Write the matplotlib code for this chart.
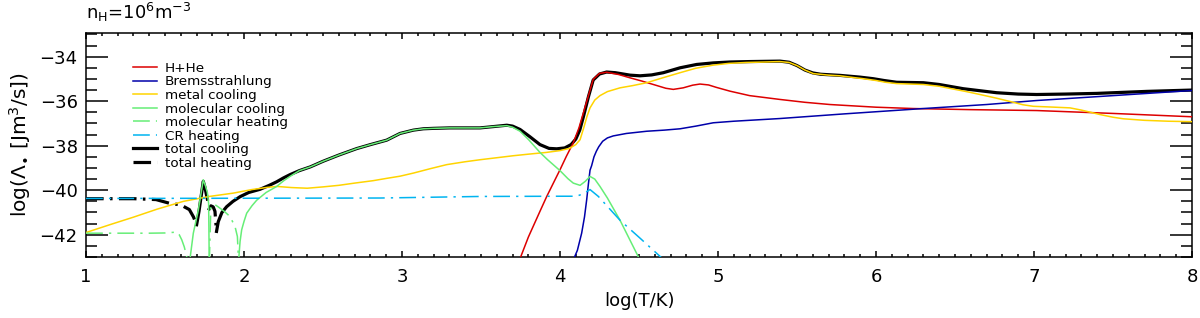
import numpy as np
import matplotlib
matplotlib.use("Agg")
import matplotlib.pyplot as plt
from matplotlib.ticker import MultipleLocator

nan = np.nan

# log(T/K) and log(Lambda); nan splits cooling/heating branches
hhe_x = [3.74, 3.80, 3.873, 3.916, 3.96, 4.00, 4.04, 4.084, 4.12, 4.148, 4.18, 4.21, 4.25, 4.295,
         4.37, 4.443, 4.52, 4.60, 4.67, 4.717, 4.78, 4.84, 4.886, 4.94, 4.99, 5.076, 5.20, 5.39,
         5.55, 5.709, 6.00, 6.236, 6.60, 7.017, 7.50, 8.00]
hhe_y = [-43.2, -42.1, -40.95, -40.28, -39.65, -39.08, -38.48, -37.87, -37.2, -36.52, -35.75,
         -35.02, -34.75, -34.7, -34.8, -34.95, -35.1, -35.27, -35.42, -35.47, -35.4, -35.28,
         -35.23, -35.27, -35.38, -35.55, -35.75, -35.92, -36.05, -36.15, -36.27, -36.33,
         -36.38, -36.42, -36.55, -36.7]

brems_x = [4.08, 4.11, 4.137, 4.155, 4.169, 4.18, 4.19, 4.20, 4.215, 4.23, 4.245, 4.27, 4.30,
           4.337, 4.42, 4.549, 4.66, 4.76, 4.86, 4.97, 5.10, 5.39, 5.80, 6.30, 6.70, 7.017,
           7.50, 8.00]
brems_y = [-43.2, -42.7, -41.93, -41.2, -40.42, -39.7, -39.1, -38.9, -38.5, -38.25, -38.05,
           -37.8, -37.65, -37.56, -37.45, -37.35, -37.3, -37.24, -37.12, -36.97, -36.9, -36.78,
           -36.57, -36.33, -36.15, -35.97, -35.75, -35.52]

metal_x = [1.0, 1.15, 1.30, 1.45, 1.616, 1.78, 1.932, 2.05, 2.15, 2.21, 2.30, 2.40, 2.50, 2.60,
           2.70, 2.818, 2.90, 2.987, 3.072, 3.18, 3.283, 3.40, 3.494, 3.60, 3.705, 3.80, 3.916,
           4.00, 4.06, 4.10, 4.127, 4.15, 4.17, 4.19, 4.22, 4.253, 4.30, 4.38, 4.46, 4.549,
           4.65, 4.76, 4.86, 4.97, 5.07, 5.18, 5.30, 5.39, 5.45, 5.50, 5.55, 5.603, 5.70,
           5.772, 5.85, 5.92, 6.00, 6.06, 6.131, 6.22, 6.30, 6.40, 6.50, 6.58, 6.658, 6.76,
           6.869, 6.93, 6.996, 7.10, 7.228, 7.30, 7.418, 7.50, 7.565, 7.70, 7.85, 8.0]
metal_y = [-41.9, -41.55, -41.21, -40.85, -40.5, -40.28, -40.13, -39.97, -39.87, -39.83,
           -39.88, -39.91, -39.85, -39.78, -39.68, -39.57, -39.47, -39.37, -39.23, -39.03,
           -38.85, -38.72, -38.63, -38.54, -38.45, -38.38, -38.30, -38.22, -38.12, -37.95,
           -37.73, -37.2, -36.7, -36.3, -35.95, -35.75, -35.57, -35.4, -35.3, -35.17, -34.95,
           -34.72, -34.52, -34.38, -34.3, -34.26, -34.24, -34.22, -34.26, -34.4, -34.6,
           -34.76, -34.83, -34.86, -34.93, -34.99, -35.07, -35.15, -35.21, -35.23, -35.25,
           -35.33, -35.47, -35.58, -35.70, -35.86, -36.05, -36.16, -36.23, -36.26, -36.30,
           -36.4, -36.60, -36.72, -36.79, -36.86, -36.9, -36.92]

molcool_x = [1.654, 1.679, 1.711, 1.742, 1.757, 1.768, 1.776, 1.780, nan,
             1.964, 1.975, 1.985, 2.00, 2.017, 2.05, 2.08, 2.14, 2.207, 2.25, 2.291, 2.35,
             2.42, 2.50, 2.60, 2.713, 2.80, 2.903, 2.987, 3.072, 3.135, 3.20, 3.30, 3.40,
             3.494, 3.58, 3.663, 3.70, 3.747, 3.80, 3.873, 3.92, 4.00, 4.05, 4.084, 4.127,
             4.16, 4.19, 4.22, 4.253, 4.30, 4.38, 4.44, 4.50]
molcool_y = [-43.3, -41.93, -40.88, -39.53, -39.83, -40.1, -40.6, -43.3, nan,
             -43.3, -42.3, -41.78, -41.4, -41.03, -40.7, -40.45, -40.1, -39.83, -39.58,
             -39.38, -39.12, -38.95, -38.7, -38.42, -38.13, -37.95, -37.75, -37.45, -37.3,
             -37.24, -37.22, -37.2, -37.2, -37.2, -37.14, -37.1, -37.17, -37.35, -37.72,
             -38.3, -38.62, -39.12, -39.48, -39.68, -39.78, -39.6, -39.38, -39.5, -39.83,
             -40.35, -41.35, -42.2, -43.05]

molheat_x = [1.0, 1.2, 1.4, 1.5, 1.574, 1.59, 1.606, 1.622, 1.637, 1.645, nan,
             1.780, 1.79, 1.81, 1.837, 1.875, 1.911, 1.943, 1.958, 1.966]
molheat_y = [-41.93, -41.93, -41.93, -41.92, -41.88, -42.0, -42.23, -42.55, -42.98, -43.3, nan,
             -43.3, -40.75, -40.62, -40.75, -40.95, -41.18, -41.63, -42.08, -43.3]

cr_x = [1.0, 2.0, 2.861, 3.494, 4.0, 4.105, 4.15, 4.19, 4.243, 4.38, 4.506, 4.622, 4.645]
cr_y = [-40.37, -40.36, -40.35, -40.28, -40.27, -40.27, -40.15, -39.97, -40.28, -41.35,
        -42.15, -42.9, -43.05]

totcool_x = [1.70, 1.715, 1.73, 1.742, 1.752, 1.762, 1.768, nan,
             1.826, 1.837, 1.86, 1.89, 1.93, 1.975, 2.03, 2.101, 2.16, 2.207, 2.249, 2.291,
             2.35, 2.42, 2.50, 2.60, 2.713, 2.80, 2.903, 2.987, 3.072, 3.135, 3.20, 3.30,
             3.40, 3.494, 3.58, 3.663, 3.70, 3.747, 3.81, 3.873, 3.93, 3.979, 4.03, 4.07,
             4.10, 4.125, 4.148, 4.18, 4.21, 4.25, 4.295, 4.35, 4.443, 4.506, 4.58, 4.654,
             4.76, 4.865, 4.97, 5.076, 5.2, 5.392, 5.45, 5.50, 5.55, 5.60, 5.65, 5.772, 5.9,
             5.983, 6.05, 6.131, 6.30, 6.4, 6.553, 6.764, 6.9, 7.017, 7.2, 7.397, 7.713, 8.0]
totcool_y = [-41.55, -40.95, -40.2, -39.6, -39.85, -40.2, -40.4, nan,
             -41.85, -41.41, -41.0, -40.74, -40.5, -40.29, -40.1, -39.96, -39.78, -39.62,
             -39.45, -39.3, -39.12, -38.95, -38.7, -38.42, -38.13, -37.95, -37.75, -37.45,
             -37.3, -37.24, -37.22, -37.2, -37.2, -37.2, -37.14, -37.08, -37.12, -37.27,
             -37.6, -37.95, -38.12, -38.14, -38.1, -37.95, -37.7, -37.3, -36.7, -35.8,
             -35.05, -34.78, -34.69, -34.72, -34.83, -34.86, -34.82, -34.72, -34.5, -34.35,
             -34.28, -34.24, -34.22, -34.2, -34.25, -34.4, -34.6, -34.73, -34.79, -34.84,
             -34.92, -34.99, -35.07, -35.15, -35.17, -35.25, -35.44, -35.62, -35.68, -35.70,
             -35.68, -35.65, -35.56, -35.50]

totheat_x = [1.0, 1.3, 1.443, 1.525, 1.60, 1.654, 1.68, 1.70, nan,
             1.775, 1.79, 1.805, 1.816, 1.826]
totheat_y = [-40.38, -40.38, -40.42, -40.58, -40.66, -40.87, -41.2, -41.55, nan,
             -40.9, -40.7, -40.75, -40.95, -41.85]

dashdot = (0, (11, 4, 1.5, 4))
dashdot_thick = (0, (5.5, 2, 0.8, 2))

fig = plt.figure(figsize=(12, 3.18), dpi=100)
ax = fig.add_axes([0.0717, 0.1918, 0.9216, 0.7035])

ax.plot(totcool_x, totcool_y, color="black", lw=2.3, label="total cooling", zorder=2)
ax.plot(totheat_x, totheat_y, color="black", lw=2.3, ls=dashdot_thick, label="total heating", zorder=2)
ax.plot(hhe_x, hhe_y, color="#dd0000", lw=1.1, label="H+He", zorder=3)
ax.plot(brems_x, brems_y, color="#0000aa", lw=1.1, label="Bremsstrahlung", zorder=3)
ax.plot(metal_x, metal_y, color="#ffd400", lw=1.1, label="metal cooling", zorder=3)
ax.plot(molcool_x, molcool_y, color="#66ee77", lw=1.1, label="molecular cooling", zorder=3)
ax.plot(molheat_x, molheat_y, color="#66ee77", lw=1.1, ls=dashdot, label="molecular heating", zorder=3)
ax.plot(cr_x, cr_y, color="#00b4f0", lw=1.1, ls=dashdot, label="CR heating", zorder=3)

ax.set_xlim(1, 8)
ax.set_ylim(-43, -32.95)
ax.xaxis.set_major_locator(MultipleLocator(1))
ax.xaxis.set_minor_locator(MultipleLocator(0.1))
ax.yaxis.set_major_locator(MultipleLocator(2))
ax.yaxis.set_minor_locator(MultipleLocator(0.5))
ax.tick_params(which="both", direction="in", top=True, right=True, width=1.1, labelsize=13)
ax.tick_params(axis="y", which="major", length=15.5, pad=6)
ax.tick_params(axis="y", which="minor", length=7.8)
ax.tick_params(axis="x", which="major", length=4.5, pad=8)
ax.tick_params(axis="x", which="minor", length=2.3)
for s in ax.spines.values():
    s.set_linewidth(1.1)

ax.set_xlabel("log(T/K)", fontsize=13, labelpad=4)
ax.set_ylabel(r"log($\Lambda_{\bullet}$ [Jm$^3$/s])", fontsize=14.5, labelpad=5)
fig.text(0.0717, 0.96, r"n$_\mathrm{H}$=10$^6$m$^{-3}$", fontsize=13, va="center", ha="left")

order = ["H+He", "Bremsstrahlung", "metal cooling", "molecular cooling",
         "molecular heating", "CR heating", "total cooling", "total heating"]
h, l = ax.get_legend_handles_labels()
hd = dict(zip(l, h))
leg = ax.legend([hd[k] for k in order], order, loc="upper left", bbox_to_anchor=(0.0425, 0.872),
                frameon=False, fontsize=9.7, labelspacing=0.04, handlelength=1.75,
                handletextpad=0.6, borderpad=0, borderaxespad=0)

fig.savefig("out.png", dpi=100)
